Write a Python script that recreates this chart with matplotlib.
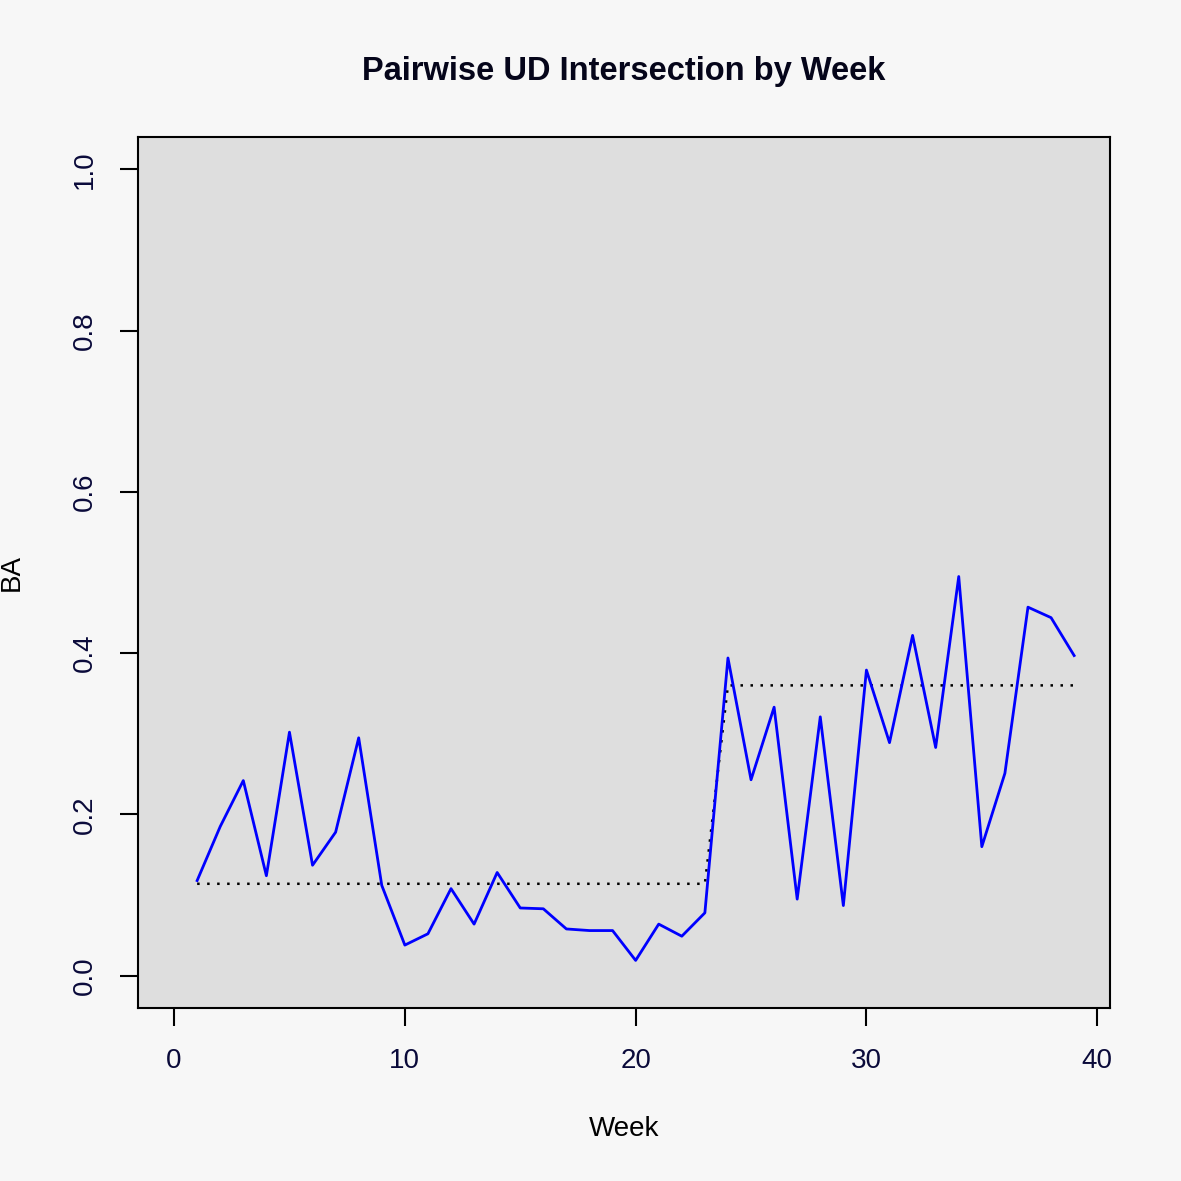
#plot of pairwise UD intersection per week
import matplotlib.pyplot as plt

weeks = list(range(1, 40))
ba = [0.118, 0.185, 0.242, 0.124, 0.302, 0.137, 0.178, 0.295, 0.112, 0.038,
      0.052, 0.108, 0.064, 0.128, 0.084, 0.083, 0.058, 0.056, 0.056, 0.019,
      0.064, 0.049, 0.078, 0.394, 0.243, 0.333, 0.095, 0.321, 0.087, 0.379,
      0.289, 0.422, 0.283, 0.495, 0.160, 0.251, 0.457, 0.444, 0.397]
# segment level (dotted step line)
level = [0.114] * 23 + [0.360] * 16

x_ticks = [0, 10, 20, 30, 40]
y_ticks = [0.0, 0.2, 0.4, 0.6, 0.8, 1.0]

plt.rcParams['font.family'] = ['Liberation Sans', 'DejaVu Sans']

fig = plt.figure(figsize=(11.81, 11.81), dpi=100, facecolor='#f7f7f7')
ax = fig.add_axes([0.1169, 0.1465, 0.8231, 0.7375])
ax.set_facecolor('#dedede')

ax.plot(weeks, level, color='black', linestyle=(0, (1, 3)), linewidth=1.8)
ax.plot(weeks, ba, color='#0000ff', linewidth=2.0)

ax.set_xlim(-1.56, 40.56)
ax.set_ylim(-0.04, 1.04)
ax.set_xticks(x_ticks)
ax.set_xticklabels([str(t) for t in x_ticks])
ax.set_yticks(y_ticks)
ax.set_yticklabels(['%.1f' % t for t in y_ticks], rotation=90, va='center')

ax.tick_params(axis='both', length=13, width=1.5, labelsize=20,
               labelcolor='#0a0a3a', pad=16)
for s in ax.spines.values():
    s.set_linewidth(1.5)

ax.set_xlabel("Week", fontsize=20, labelpad=30)
ax.set_ylabel("BA", fontsize=20, labelpad=34)
ax.set_title("Pairwise UD Intersection by Week", fontsize=23.5,
             fontweight='bold', pad=41, color='#05051a')

plt.savefig("out.png", dpi=100, facecolor=fig.get_facecolor())
